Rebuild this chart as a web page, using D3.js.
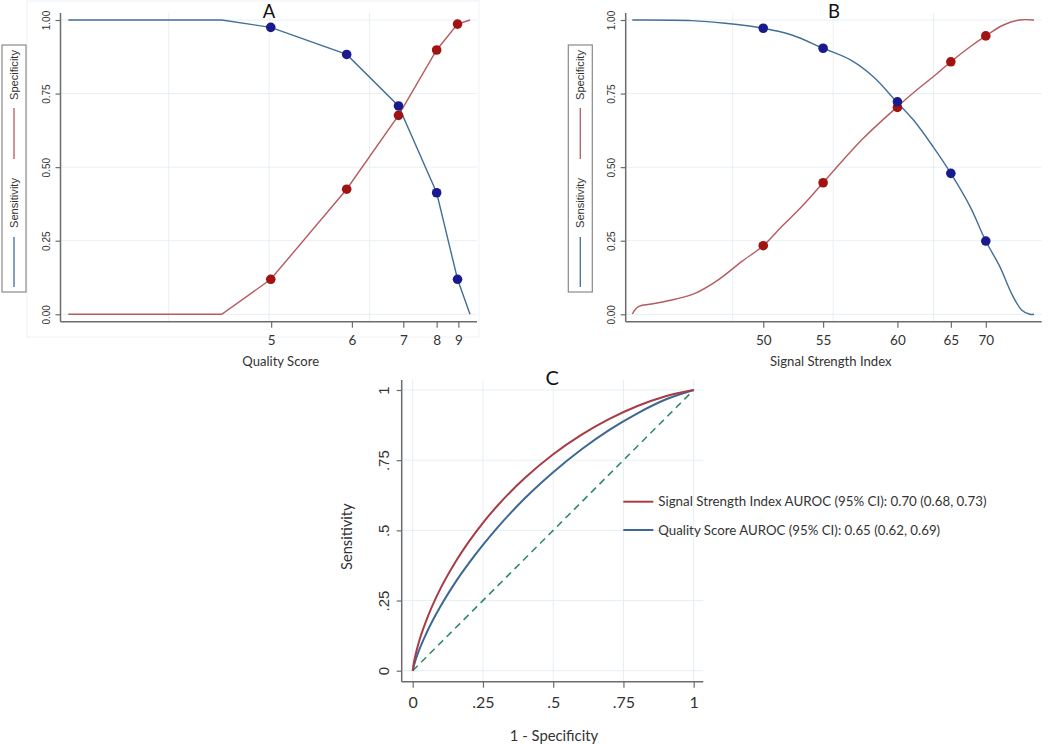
<!DOCTYPE html>
<html><head><meta charset="utf-8">
<script src="https://cdn.jsdelivr.net/npm/d3@7"></script>
<style>body{margin:0;background:#fff}svg{display:block}</style>
</head><body><svg id="c" width="1050" height="745"></svg>
<script>
// ---------- DATA ----------
// Panel A: Quality Score (x axis is cumulative proportion 0..1, ticks labelled by score)
const qsTickLabels = ["5", "6", "7", "8", "9"];
const qsTickPos    = [0.505, 0.706, 0.834, 0.917, 0.971];
const qsPointPos   = [0.504, 0.693, 0.822, 0.917, 0.969];
const qsSens       = [0.975, 0.883, 0.708, 0.413, 0.119];
const qsSpec       = [0.119, 0.425, 0.676, 0.898, 0.986];
const qsSensLine   = [[0, 1], [0.382, 1], [0.504, 0.975], [0.693, 0.883], [0.822, 0.708], [0.917, 0.413], [0.969, 0.119], [1, 0]];
const qsSpecLine   = [[0, 0], [0.382, 0], [0.504, 0.119], [0.693, 0.425], [0.822, 0.676], [0.917, 0.898], [0.969, 0.986], [1, 1]];

// Panel B: Signal Strength Index
const ssiTickLabels = ["50", "55", "60", "65", "70"];
const ssiTickPos    = [0.326, 0.475, 0.660, 0.793, 0.880];
const ssiSens       = [0.972, 0.904, 0.722, 0.479, 0.249];
const ssiSpec       = [0.233, 0.447, 0.703, 0.858, 0.946];
const ssiSensCurve  = [[0, 1], [0.148, 0.998], [0.231, 0.989], [0.326, 0.972], [0.397, 0.949], [0.475, 0.904],
  [0.542, 0.865], [0.600, 0.807], [0.658, 0.722], [0.700, 0.660], [0.749, 0.569], [0.793, 0.479], [0.841, 0.366],
  [0.880, 0.249], [0.915, 0.162], [0.944, 0.071], [0.969, 0.015], [0.990, 0], [1, 0]];
const ssiSpecCurve  = [[0, 0.001], [0.015, 0.026], [0.048, 0.035], [0.106, 0.051], [0.156, 0.071], [0.214, 0.117],
  [0.272, 0.179], [0.326, 0.233], [0.372, 0.298], [0.422, 0.366], [0.475, 0.447], [0.505, 0.494], [0.575, 0.598],
  [0.658, 0.703], [0.708, 0.762], [0.749, 0.807], [0.793, 0.858], [0.841, 0.909], [0.880, 0.946], [0.924, 0.983],
  [0.965, 1], [1, 1]];

const abYTicks = [0, 0.25, 0.5, 0.75, 1];
const abGridX  = [0.25, 0.5, 0.75];
const abLegend = ["Specificity", "Sensitivity"];

// Panel C: ROC curves
const rocFpr   = [0, 0.005, 0.01, 0.02, 0.05, 0.1, 0.15, 0.2, 0.25, 0.3, 0.4, 0.5, 0.6, 0.7, 0.8, 0.9, 1];
const rocSsi   = [0, 0.033, 0.056, 0.095, 0.183, 0.295, 0.384, 0.460, 0.527, 0.586, 0.687, 0.771, 0.840, 0.897, 0.943, 0.978, 1];
const rocQs    = [0, 0.021, 0.037, 0.066, 0.136, 0.231, 0.312, 0.383, 0.448, 0.508, 0.615, 0.707, 0.788, 0.858, 0.917, 0.966, 1];
const rocTicks = [0, 0.25, 0.5, 0.75, 1];
const rocTickLabels = ["0", ".25", ".5", ".75", "1"];
const rocLegend = ["Signal Strength Index AUROC (95% CI): 0.70 (0.68, 0.73)", "Quality Score AUROC (95% CI): 0.65 (0.62, 0.69)"];

// ---------- STYLE ----------
const COL = { blueLine: "#426f97", redLine: "#b65a5f", blueDot: "#1a1a8e", redDot: "#a11212",
  grid: "#e7eff4", axis: "#6c6c6c", text: "#333", rocRed: "#a83c46", rocBlue: "#3c6892", diag: "#2f8a6c" };
const SANS = "'Liberation Sans', Arial, sans-serif";
const HUM = "Lato, 'Open Sans', sans-serif";

const svg = d3.select("#c");

function fit(sel, w) {
  const fs = parseFloat(sel.style("font-size"));
  const L = sel.node().getComputedTextLength();
  if (L > 0) sel.style("font-size", (fs * w / L) + "px");
  return sel;
}
function rotText(g, x, y, txt, font, size, color) {
  return g.append("text").attr("transform", `translate(${x},${y}) rotate(-90)`)
    .attr("text-anchor", "middle").attr("dy", "0.35em")
    .style("font-family", font).style("font-size", size + "px").attr("fill", color).text(txt);
}

// ---------- PANELS A & B ----------
function panelAB(cfg) {
  const g = svg.append("g");
  const x = d3.scaleLinear().domain([0, 1]).range(cfg.xr);
  const y = d3.scaleLinear().domain([0, 1]).range([314.3, 20]);
  const axisY = 321.7, top = 13;

  // grid
  g.selectAll(".gh").data(abYTicks).join("line")
    .attr("x1", cfg.axisX).attr("x2", cfg.axisEnd).attr("y1", d => y(d)).attr("y2", d => y(d))
    .attr("stroke", COL.grid).attr("stroke-width", 1);
  g.selectAll(".gv").data(abGridX).join("line")
    .attr("x1", d => x(d)).attr("x2", d => x(d)).attr("y1", top).attr("y2", axisY)
    .attr("stroke", COL.grid).attr("stroke-width", 1);

  // axes
  const ya = g.append("g").attr("transform", `translate(${cfg.axisX},0)`)
    .call(d3.axisLeft(y).tickValues(abYTicks).tickFormat(d3.format(".2f")).tickSize(5));
  ya.select(".domain").remove();
  ya.selectAll("line").attr("stroke", COL.axis).attr("stroke-width", 1.2);
  ya.selectAll("text").attr("x", null).attr("dy", "0.35em")
    .attr("transform", "translate(-14,0) rotate(-90)").attr("text-anchor", "middle")
    .style("font-family", SANS).style("font-size", "10px").attr("fill", COL.text);

  const xa = g.append("g").attr("transform", `translate(0,${axisY})`)
    .call(d3.axisBottom(x).tickValues(cfg.tickPos).tickFormat((d, i) => cfg.tickLabels[i]).tickSize(6));
  xa.select(".domain").remove();
  xa.selectAll("line").attr("stroke", COL.axis).attr("stroke-width", 1.2);
  xa.selectAll("text").attr("y", 18.5).attr("dy", "0.36em")
    .style("font-family", HUM).style("font-size", "13.5px").attr("fill", COL.text);

  g.append("line").attr("x1", cfg.axisX).attr("x2", cfg.axisX).attr("y1", top).attr("y2", axisY)
    .attr("stroke", COL.axis).attr("stroke-width", 1.5);
  g.append("line").attr("x1", cfg.axisX).attr("x2", cfg.axisEnd).attr("y1", axisY).attr("y2", axisY)
    .attr("stroke", COL.axis).attr("stroke-width", 1.5);

  // lines
  const line = d3.line().x(d => x(d[0])).y(d => y(d[1])).curve(cfg.curve);
  g.append("path").attr("d", line(cfg.specLine)).attr("fill", "none").attr("stroke", COL.redLine).attr("stroke-width", 1.4);
  g.append("path").attr("d", line(cfg.sensLine)).attr("fill", "none").attr("stroke", COL.blueLine).attr("stroke-width", 1.4);

  // dots
  g.selectAll(".ds").data(cfg.spec).join("circle")
    .attr("cx", (d, i) => x(cfg.pointPos[i])).attr("cy", d => y(d)).attr("r", 4.8).attr("fill", COL.redDot);
  g.selectAll(".dn").data(cfg.sens).join("circle")
    .attr("cx", (d, i) => x(cfg.pointPos[i])).attr("cy", d => y(d)).attr("r", 4.8).attr("fill", COL.blueDot);

  // title + axis title
  g.append("text").attr("x", cfg.titleX).attr("y", 17.5).attr("text-anchor", "middle")
    .style("font-family", HUM).style("font-size", "18.5px").attr("fill", "#111").text(cfg.title);
  fit(g.append("text").attr("x", cfg.xTitleX).attr("y", 361).attr("dy", "0.35em").attr("text-anchor", "middle")
    .style("font-family", HUM).style("font-size", "13px").attr("fill", COL.text).text(cfg.xTitle), cfg.xTitleW);

  // legend (vertical)
  const lx = cfg.legX;
  g.append("rect").attr("x", lx).attr("y", 45).attr("width", 24).attr("height", 247)
    .attr("fill", "#fff").attr("stroke", "#8a8a8a").attr("stroke-width", 1.2);
  const cx = lx + 12;
  fit(rotText(g, cx, 75, abLegend[0], SANS, 11, COL.text), 50);
  g.append("line").attr("x1", cx).attr("x2", cx).attr("y1", 108).attr("y2", 159).attr("stroke", COL.redLine).attr("stroke-width", 1.3);
  fit(rotText(g, cx, 203, abLegend[1], SANS, 11, COL.text), 50);
  g.append("line").attr("x1", cx).attr("x2", cx).attr("y1", 237).attr("y2", 287).attr("stroke", COL.blueLine).attr("stroke-width", 1.3);
}

// faint outer frame in panel A
svg.append("rect").attr("x", 27).attr("y", 1).attr("width", 452).attr("height", 336)
  .attr("fill", "none").attr("stroke", "#eef3f7").attr("stroke-width", 1);

panelAB({ xr: [68.3, 470], axisX: 60.5, axisEnd: 477, tickPos: qsTickPos, tickLabels: qsTickLabels,
  pointPos: qsPointPos, sens: qsSens, spec: qsSpec, sensLine: qsSensLine, specLine: qsSpecLine,
  curve: d3.curveLinear, title: "A", titleX: 269, xTitle: "Quality Score", xTitleX: 280.7, xTitleW: 76.7, legX: 2 });

panelAB({ xr: [632.3, 1034], axisX: 625.7, axisEnd: 1041.7, tickPos: ssiTickPos, tickLabels: ssiTickLabels,
  pointPos: ssiTickPos, sens: ssiSens, spec: ssiSpec, sensLine: ssiSensCurve, specLine: ssiSpecCurve,
  curve: d3.curveCatmullRom.alpha(0.5), title: "B", titleX: 834, xTitle: "Signal Strength Index", xTitleX: 830.8, xTitleW: 121.7, legX: 568.3 });

// ---------- PANEL C ----------
(function () {
  const g = svg.append("g");
  const x = d3.scaleLinear().domain([0, 1]).range([412.7, 693.7]);
  const y = d3.scaleLinear().domain([0, 1]).range([670.7, 390]);
  const L = 401.7, R = 703.3, T = 380, B = 681.7;

  g.selectAll(".gh").data(rocTicks).join("line")
    .attr("x1", L).attr("x2", R).attr("y1", d => y(d)).attr("y2", d => y(d)).attr("stroke", COL.grid);
  g.selectAll(".gv").data(rocTicks).join("line")
    .attr("x1", d => x(d)).attr("x2", d => x(d)).attr("y1", T).attr("y2", B).attr("stroke", COL.grid);

  const ya = g.append("g").attr("transform", `translate(${L},0)`)
    .call(d3.axisLeft(y).tickValues(rocTicks).tickFormat((d, i) => rocTickLabels[i]).tickSize(5));
  ya.select(".domain").remove();
  ya.selectAll("line").attr("stroke", COL.axis).attr("stroke-width", 1.2);
  ya.selectAll("text").attr("x", null).attr("dy", "0.35em")
    .attr("transform", "translate(-18.4,0) rotate(-90)").attr("text-anchor", "middle")
    .style("font-family", SANS).style("font-size", "15px").attr("fill", COL.text);

  const xa = g.append("g").attr("transform", `translate(0,${B})`)
    .call(d3.axisBottom(x).tickValues(rocTicks).tickFormat((d, i) => rocTickLabels[i]).tickSize(6));
  xa.select(".domain").remove();
  xa.selectAll("line").attr("stroke", COL.axis).attr("stroke-width", 1.2);
  xa.selectAll("text").attr("y", 20.6).attr("dy", "0.36em")
    .style("font-family", HUM).style("font-size", "16px").attr("fill", COL.text);

  g.append("line").attr("x1", L).attr("x2", L).attr("y1", T).attr("y2", B).attr("stroke", COL.axis).attr("stroke-width", 1.5);
  g.append("line").attr("x1", L).attr("x2", R).attr("y1", B).attr("y2", B).attr("stroke", COL.axis).attr("stroke-width", 1.5);

  // diagonal reference
  g.append("path").attr("d", d3.line().x(d => x(d)).y(d => y(d))([0, 1]))
    .attr("stroke", COL.diag).attr("stroke-width", 1.6).attr("stroke-dasharray", "7,5").attr("fill", "none");

  const line = d3.line().x(d => x(d[0])).y(d => y(d[1])).curve(d3.curveMonotoneX);
  g.append("path").attr("d", line(rocFpr.map((f, i) => [f, rocQs[i]]))).attr("fill", "none")
    .attr("stroke", COL.rocBlue).attr("stroke-width", 2);
  g.append("path").attr("d", line(rocFpr.map((f, i) => [f, rocSsi[i]]))).attr("fill", "none")
    .attr("stroke", COL.rocRed).attr("stroke-width", 2);

  g.append("text").attr("x", 552.3).attr("y", 384.5).attr("text-anchor", "middle")
    .style("font-family", HUM).style("font-size", "20px").attr("fill", "#111").text("C");
  fit(g.append("text").attr("x", 554).attr("y", 735.7).attr("dy", "0.35em").attr("text-anchor", "middle")
    .style("font-family", HUM).style("font-size", "15px").attr("fill", COL.text).text("1 - Specificity"), 88.3);
  fit(rotText(g, 347.3, 536.7, "Sensitivity", HUM, 15, COL.text), 66.7);

  // legend
  const legCols = [COL.rocRed, COL.rocBlue], legY = [501.7, 530], legW = [328.4, 282.3];
  rocLegend.forEach((t, i) => {
    g.append("line").attr("x1", 623.3).attr("x2", 653.3).attr("y1", legY[i]).attr("y2", legY[i])
      .attr("stroke", legCols[i]).attr("stroke-width", 2);
    fit(g.append("text").attr("x", 658.3).attr("y", legY[i]).attr("dy", "0.35em")
      .style("font-family", HUM).style("font-size", "13px").attr("fill", COL.text).text(t), legW[i]);
  });
})();
</script>
</body></html>
